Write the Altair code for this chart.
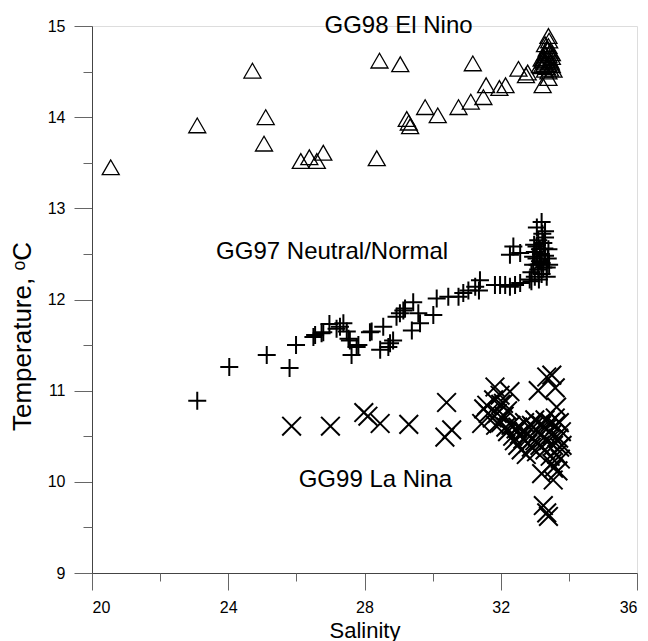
import altair as alt
import pandas as pd

# GG98 El Nino (triangles)
s98 = [20.55, 23.09, 24.71, 25.10, 25.05, 26.13, 26.38, 26.60, 26.79, 28.36,
       28.44, 29.05, 29.24, 29.30, 29.34, 29.78, 30.15, 30.76, 31.12, 31.49,
       31.57, 31.96, 32.14, 31.18, 32.52, 32.79, 32.74, 33.23, 33.40, 33.40,
       33.30, 33.40, 33.35, 33.45, 33.30, 33.40, 33.50, 33.25, 33.35, 33.45,
       33.30, 33.40, 33.50, 33.20, 33.35, 33.45, 33.30, 33.40, 33.25, 33.50,
       33.38, 33.42, 33.33, 33.47, 33.28, 33.15, 33.55, 33.20]
t98 = [13.45, 13.91, 14.51, 14.00, 13.71, 13.52, 13.56, 13.52, 13.61, 13.55,
       14.62, 14.58, 13.98, 13.94, 13.90, 14.11, 14.02, 14.11, 14.17, 14.22,
       14.35, 14.32, 14.35, 14.59, 14.53, 14.49, 14.46, 14.35, 14.43, 14.89,
       14.80, 14.78, 14.75, 14.72, 14.70, 14.68, 14.66, 14.65, 14.63, 14.62,
       14.60, 14.58, 14.57, 14.56, 14.55, 14.53, 14.52, 14.50, 14.62, 14.70,
       14.74, 14.84, 14.68, 14.60, 14.58, 14.57, 14.52, 14.64]

# GG97 Neutral/Normal (plus)
s97 = [23.09, 24.03, 25.13, 25.80, 25.99, 26.50, 26.55, 26.74, 26.79, 26.97,
       27.18, 27.28, 27.38, 27.48, 27.53, 27.57, 27.62, 27.77, 27.82, 28.16,
       28.21, 28.46, 28.55, 28.70, 28.75, 28.84, 28.94, 29.04, 29.14, 29.19,
       29.39, 29.43, 29.58, 29.63, 30.02, 30.12, 30.46, 30.76, 30.90, 31.05,
       31.25, 31.36, 31.39, 31.83, 31.98, 32.13, 32.27, 32.42, 32.57, 32.37,
       32.27, 32.57, 33.20, 33.06, 33.30,
       32.85, 32.90, 32.95, 33.00, 33.05, 33.10, 33.15, 33.20, 33.25, 33.30,
       33.35, 33.40, 33.10, 33.00, 33.20, 33.30, 33.15, 32.95, 33.25, 33.38,
       33.05, 33.22, 32.90, 33.12, 33.35, 33.28, 33.18, 33.08, 32.98, 33.42]
t97 = [10.89, 11.26, 11.39, 11.25, 11.50, 11.59, 11.61, 11.63, 11.64, 11.73,
       11.68, 11.70, 11.74, 11.65, 11.57, 11.55, 11.39, 11.48, 11.50, 11.64,
       11.65, 11.45, 11.70, 11.48, 11.52, 11.55, 11.81, 11.85, 11.88, 11.90,
       11.66, 11.97, 11.85, 11.74, 11.83, 12.01, 12.03, 12.03, 12.07, 12.10,
       12.14, 12.10, 12.21, 12.16, 12.16, 12.16, 12.14, 12.16, 12.18, 12.58,
       12.49, 12.51, 12.85, 12.79, 12.75,
       12.22, 12.30, 12.38, 12.25, 12.45, 12.33, 12.55, 12.40, 12.62, 12.48,
       12.35, 12.55, 12.65, 12.52, 12.28, 12.68, 12.42, 12.47, 12.35, 12.45,
       12.58, 12.72, 12.20, 12.22, 12.25, 12.56, 12.50, 12.38, 12.60, 12.38]

# GG99 La Nina (x)
s99 = [25.86, 27.00, 27.98, 28.10, 28.46, 29.30, 30.41, 30.36, 30.56, 31.44,
       31.50, 31.59, 31.63, 31.79, 31.83, 31.98, 32.08, 32.27, 33.10, 33.35,
       33.50, 33.60, 33.64, 33.20, 33.54, 33.50, 33.25, 33.35, 33.40, 33.73,
       33.78,
       31.75, 31.90, 32.00, 32.10, 32.15, 32.20, 32.30, 32.35, 32.40, 32.45,
       32.50, 32.55, 32.60, 32.65, 32.70, 32.75, 32.80, 32.85, 32.90, 32.95,
       33.00, 33.05, 33.10, 33.15, 33.20, 33.25, 33.30, 33.35, 33.40, 33.45,
       33.50, 33.55, 33.60, 33.65, 33.70, 33.75, 33.80, 33.00, 32.90, 33.30,
       33.60, 32.50, 32.20, 32.00, 31.85, 33.45, 33.72, 33.55, 33.68, 32.70]
t99 = [10.61, 10.61, 10.76, 10.72, 10.64, 10.63, 10.87, 10.49, 10.57, 10.64,
       10.80, 10.84, 10.75, 10.90, 11.04, 10.95, 10.86, 10.99, 11.00, 11.15,
       11.17, 11.03, 10.82, 10.09, 10.02, 10.20, 9.74, 9.66, 9.62, 10.38,
       10.55,
       10.70, 10.75, 10.65, 10.72, 10.60, 10.55, 10.62, 10.50, 10.45, 10.58,
       10.40, 10.52, 10.35, 10.47, 10.55, 10.30, 10.42, 10.50, 10.38, 10.60,
       10.45, 10.33, 10.55, 10.40, 10.62, 10.48, 10.35, 10.58, 10.45, 10.28,
       10.52, 10.40, 10.62, 10.30, 10.48, 10.25, 10.40, 10.68, 10.62, 10.68,
       10.70, 10.60, 10.78, 10.85, 10.62, 10.65, 10.65, 10.15, 10.12, 10.65]

labels = ["GG98 El Nino", "GG97 Neutral/Normal", "GG99 La Nina"]
label_x = [29.0, 27.05, 28.32]
label_y = [15.0, 12.52, 10.02]

x_major = [20, 24, 28, 32, 36]
x_minor = [22, 26, 30, 34]
y_major = [9, 10, 11, 12, 13, 14, 15]
y_minor = [9.5, 10.5, 11.5, 12.5, 13.5, 14.5]

df98 = pd.DataFrame({"Salinity": s98, "Temp": t98})
df97 = pd.DataFrame({"Salinity": s97, "Temp": t97})
df99 = pd.DataFrame({"Salinity": s99, "Temp": t99})
dft = pd.DataFrame({"label": labels, "Salinity": label_x, "Temp": label_y})

FONT = "Liberation Sans"
xscale = alt.Scale(domain=[20, 36], nice=False, zero=False)
yscale = alt.Scale(domain=[9, 15], nice=False, zero=False)

x_major_axis = alt.Axis(values=x_major, orient="bottom", tickSize=17, labelFontSize=16,
                        labelFont=FONT, labelColor="black", labelPadding=9,
                        domainColor="#444", tickColor="#666", grid=False,
                        title="Salinity", titleFont=FONT, titleFontSize=22,
                        titleFontWeight="normal", titleColor="black",
                        titleBaseline="alphabetic", titleY=64)
y_major_axis = alt.Axis(values=y_major, orient="left", tickSize=18, labelFontSize=16,
                        labelFont=FONT, labelColor="black", labelPadding=9,
                        domainColor="#444", tickColor="#666", grid=False,
                        title="Temperature, ᵒC", titleFont=FONT, titleFontSize=26,
                        titleFontWeight="normal", titleColor="black",
                        titleBaseline="middle", titleX=-70, titleY=310)
x_minor_axis = alt.Axis(values=x_minor, orient="bottom", tickSize=8, labels=False,
                        domain=False, tickColor="#666", grid=False, title=None)
y_minor_axis = alt.Axis(values=y_minor, orient="left", tickSize=9, labels=False,
                        domain=False, tickColor="#666", grid=False, title=None)

tri = alt.Chart(df98).mark_point(shape="triangle-up", size=290, filled=False,
                                 color="black", strokeWidth=1.3, opacity=1).encode(
    x=alt.X("Salinity:Q", scale=xscale, axis=x_major_axis),
    y=alt.Y("Temp:Q", scale=yscale, axis=y_major_axis),
)
plus = alt.Chart(df97).mark_point(shape="M-1,0H1M0,-1V1", size=324, filled=False,
                                  color="black", strokeWidth=2, opacity=1).encode(
    x=alt.X("Salinity:Q", scale=xscale, axis=x_minor_axis),
    y=alt.Y("Temp:Q", scale=yscale, axis=y_minor_axis),
)
cross = alt.Chart(df99).mark_point(shape="M-1,-1L1,1M-1,1L1,-1", size=350, filled=False,
                                   color="black", strokeWidth=2, opacity=1).encode(
    x=alt.X("Salinity:Q", scale=xscale, axis=None),
    y=alt.Y("Temp:Q", scale=yscale, axis=None),
)
text = alt.Chart(dft).mark_text(font=FONT, fontSize=24, color="black",
                                align="center", baseline="middle").encode(
    x=alt.X("Salinity:Q", scale=xscale, axis=None),
    y=alt.Y("Temp:Q", scale=yscale, axis=None),
    text="label:N",
)

chart = alt.layer(tri, plus, cross, text).resolve_axis(
    x="independent", y="independent"
).properties(
    width=545, height=547,
    autosize=alt.AutoSizeParams(type="none"),
    padding={"left": 84, "top": 18, "right": 3, "bottom": 80},
).configure_view(stroke=None).configure(background="white")

chart.save("out.html", embed_options={"renderer": "svg", "actions": False})
